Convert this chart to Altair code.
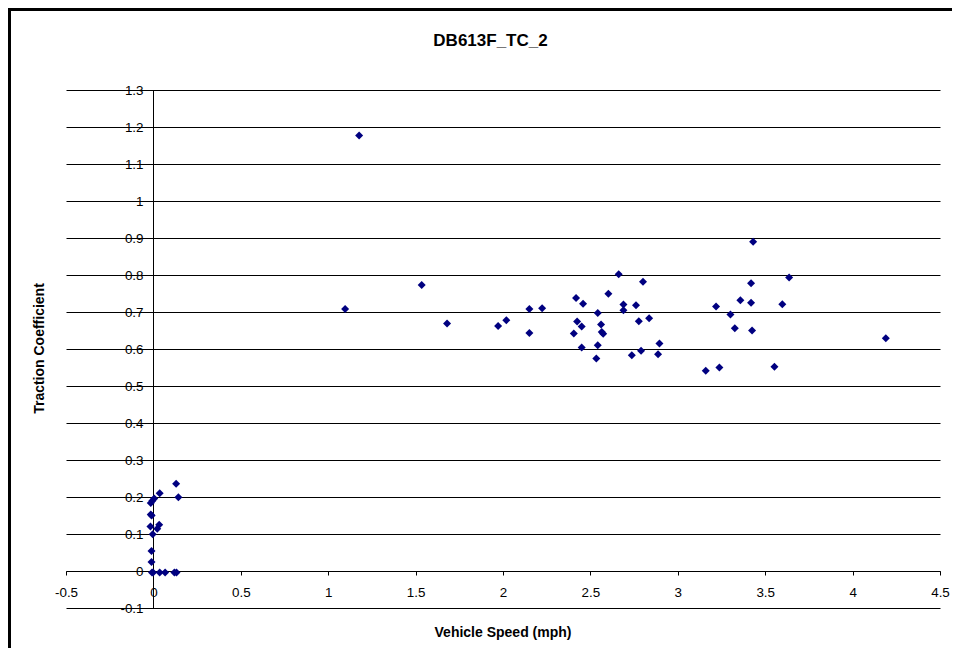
import altair as alt
import pandas as pd

# ---- data ----
speed = [
    0.130, 0.143, 0.036, 0.005, -0.006, -0.015, -0.015, -0.010, -0.017, 0.033,
    0.022, -0.004, -0.011, -0.011, -0.008, -0.002, 0.036, 0.067, 0.120, 0.132,
    1.097, 1.177, 1.535, 1.680, 1.972, 2.019, 2.151, 2.151, 2.224, 2.418,
    2.458, 2.424, 2.450, 2.405, 2.450, 2.542, 2.561, 2.565, 2.573, 2.542,
    2.534, 2.603, 2.662, 2.689, 2.689, 2.761, 2.801, 2.777, 2.836, 2.895,
    2.790, 2.737, 2.887, 3.160, 3.238, 3.219, 3.301, 3.431, 3.419, 3.637,
    3.358, 3.419, 3.598, 3.326, 3.425, 4.190, 3.553,
]
traction = [
    0.236, 0.199, 0.210, 0.196, 0.190, 0.184, 0.153, 0.150, 0.120, 0.125,
    0.114, 0.099, 0.054, 0.024, -0.004, -0.004, -0.004, -0.004, -0.004, -0.004,
    0.708, 1.177, 0.773, 0.669, 0.662, 0.678, 0.708, 0.643, 0.710, 0.738,
    0.722, 0.674, 0.661, 0.642, 0.604, 0.697, 0.666, 0.646, 0.641, 0.610,
    0.574, 0.749, 0.802, 0.720, 0.705, 0.718, 0.782, 0.675, 0.683, 0.615,
    0.595, 0.583, 0.586, 0.541, 0.550, 0.715, 0.693, 0.890, 0.778, 0.793,
    0.732, 0.725, 0.721, 0.656, 0.650, 0.629, 0.552,
]
x_ticks = [-0.5, 0, 0.5, 1, 1.5, 2, 2.5, 3, 3.5, 4, 4.5]
y_ticks = [-0.1, 0, 0.1, 0.2, 0.3, 0.4, 0.5, 0.6, 0.7, 0.8, 0.9, 1, 1.1, 1.2, 1.3]

chart_title = "DB613F_TC_2"
x_title = "Vehicle Speed (mph)"
y_title = "Traction Coefficient"

df = pd.DataFrame({"speed": speed, "tc": traction})
one = pd.DataFrame({"k": [0]})

W, H = 874, 518
FONT = "Liberation Sans"

x_scale = alt.Scale(domain=[-0.5, 4.5], nice=False, zero=False)
y_scale = alt.Scale(domain=[-0.1, 1.3], nice=False, zero=False)

points = alt.Chart(df).mark_point(
    shape="diamond", filled=True, size=64, color="#000080", opacity=1
).encode(
    x=alt.X(
        "speed:Q",
        scale=x_scale,
        axis=alt.Axis(
            values=x_ticks,
            title=None,
            orient="bottom",
            offset=-37,
            grid=False,
            tickSize=4,
            labelPadding=10,
            labelExpr="toString(datum.value)",
        ),
    ),
    y=alt.Y(
        "tc:Q",
        scale=y_scale,
        axis=alt.Axis(
            values=y_ticks,
            title=None,
            orient="left",
            offset=-87,
            grid=True,
            tickSize=4,
            labelPadding=6,
            labelExpr="toString(datum.value)",
        ),
    ),
)

frame_left = alt.Chart(one).mark_rule(color="black", strokeWidth=3).encode(
    x=alt.value(-56.5), y=alt.value(-82), y2=alt.value(560)
)
frame_top = alt.Chart(one).mark_rule(color="black", strokeWidth=3).encode(
    x=alt.value(-58), x2=alt.value(890), y=alt.value(-80.5)
)

title_text = alt.Chart(one).mark_text(
    font=FONT, fontSize=17, fontWeight="bold", color="black",
    align="center", baseline="alphabetic"
).encode(x=alt.value(424.5), y=alt.value(-44), text=alt.value(chart_title))

xt_text = alt.Chart(one).mark_text(
    font=FONT, fontSize=14, fontWeight="bold", color="black",
    align="center", baseline="middle"
).encode(x=alt.value(437), y=alt.value(543), text=alt.value(x_title))

yt_text = alt.Chart(one).mark_text(
    font=FONT, fontSize=14, fontWeight="bold", color="black",
    align="center", baseline="middle", angle=270
).encode(x=alt.value(-26.5), y=alt.value(258.5), text=alt.value(y_title))

chart = alt.layer(
    frame_left, frame_top, points, title_text, xt_text, yt_text
).properties(
    width=W,
    height=H,
    autosize=alt.AutoSizeParams(type="none"),
    padding={"left": 58, "top": 82, "right": 12, "bottom": 40},
    background="white",
).configure_view(
    stroke=None
).configure_axis(
    domainColor="black",
    domainWidth=1,
    tickColor="black",
    tickWidth=1,
    gridColor="black",
    gridOpacity=1,
    gridWidth=1,
    labelFont=FONT,
    labelFontSize=13.4,
    labelColor="black",
    labelFlush=False,
    labelOverlap=False,
)

chart.save("out.html", embed_options={"renderer": "svg", "actions": False})
